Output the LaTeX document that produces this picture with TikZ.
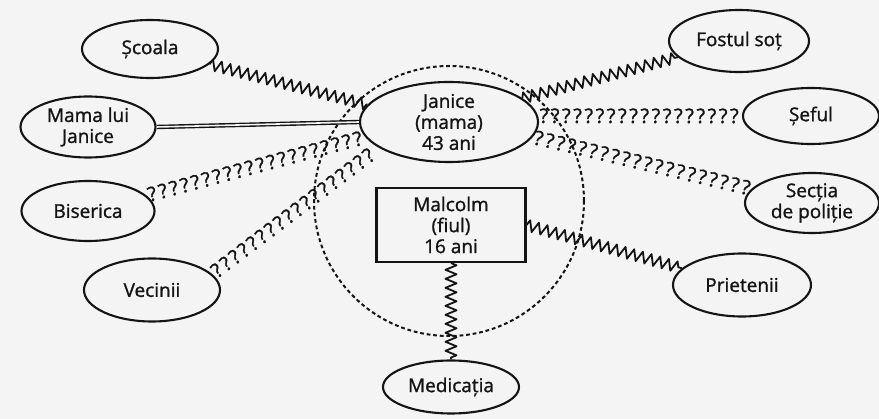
\documentclass[tikz,border=0pt]{standalone}
\usepackage{fontspec}
\setmainfont{Open Sans}
\newfontfamily\nodefont[FakeBold=1.2]{Open Sans}
\newfontfamily\qfont[FakeBold=1.4]{Open Sans}
\usetikzlibrary{decorations.pathmorphing,decorations.markings,shapes.geometric}
\definecolor{bg}{RGB}{244,244,244}
\definecolor{ink}{RGB}{20,20,20}
\tikzset{
  ell/.style={ellipse, draw=ink, line width=2.1pt, inner sep=0pt, text=ink,
    font=\nodefont\fontsize{19}{21}\selectfont, align=center},
  rbox/.style={rectangle, draw=ink, line width=2.1pt, inner sep=0pt, text=ink,
    font=\nodefont\fontsize{19}{21}\selectfont, align=center},
  zz/.style={draw=ink, line width=1.8pt, line join=round, decorate,
    decoration={zigzag, segment length=9pt, amplitude=5.5pt}},
  qq/.style={decorate, decoration={markings,
    mark=between positions 6pt and -4pt step 11.2pt with
      {\node[transform shape, inner sep=0pt, text=ink,
         font=\qfont\fontsize{20}{20}\selectfont] {?};}}},
  dbl/.style={draw=ink, line width=1.4pt, double=bg, double distance=1.6pt},
  circ/.style={circle, draw=ink, line width=2pt, dash pattern=on 3.8pt off 2.8pt,
    inner sep=0pt, minimum size=270pt},
}
\begin{document}
\begin{tikzpicture}[x=1pt,y=-1pt]
\fill[bg] (0,0) rectangle (879,419);
\useasboundingbox (0,0) rectangle (879,419);

\node[circ] (fam) at (449,201) {};

\node[ell, minimum width=178pt, minimum height=80pt] (Janice) at (449,122) {Janice\\(mama)\\43 ani};
\node[rbox, minimum width=149pt, minimum height=74pt] (Malcolm) at (451,225) {Malcolm\\(fiul)\\16 ani};

\node[ell, minimum width=136pt, minimum height=58pt] (Scoala) at (150,49) {Școala};
\node[ell, minimum width=135pt, minimum height=61pt] (Mama) at (88,127) {Mama lui\\Janice};
\node[ell, minimum width=133pt, minimum height=60pt] (Biserica) at (88,211) {Biserica};
\node[ell, minimum width=136pt, minimum height=63pt] (Vecinii) at (152,290) {Vecinii};
\node[ell, minimum width=136pt, minimum height=53pt] (Medicatia) at (451,387) {Medicația};
\node[ell, minimum width=140pt, minimum height=62pt] (Fostul) at (739,41) {Fostul soț};
\node[ell, minimum width=136pt, minimum height=56pt] (Seful) at (811,116) {Șeful};
\node[ell, minimum width=134pt, minimum height=60pt] (Sectia) at (812,203) {Secția\\de poliție};
\node[ell, minimum width=138pt, minimum height=63pt] (Prietenii) at (742,285) {Prietenii};

% zigzag connectors
\path[zz] (Scoala) -- (Janice.168);
\path[zz] (Janice.18) -- (Fostul);
\path[zz] (Malcolm.east) -- (Prietenii);
\path[zz] (Malcolm.south) -- (Medicatia.north);

% double line
\path[dbl] (Mama.east) -- (Janice.west);

% question-mark connectors
\path[qq] (Biserica) -- (Janice.190);
\path[qq] (Vecinii.15) -- (Janice.200);
\path[qq] (Janice.4) -- (Seful);
\path[qq] (Janice.-10) -- (Sectia);
\end{tikzpicture}
\end{document}
